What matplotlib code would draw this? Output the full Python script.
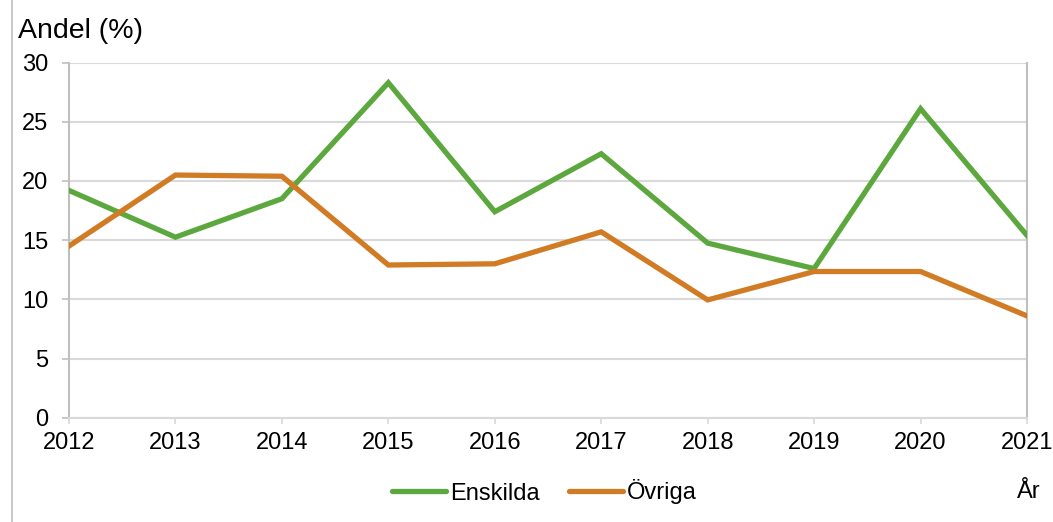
import matplotlib
matplotlib.use("Agg")
import matplotlib.pyplot as plt
from matplotlib.lines import Line2D

years = [2012, 2013, 2014, 2015, 2016, 2017, 2018, 2019, 2020, 2021]
enskilda = [19.2, 15.25, 18.5, 28.3, 17.4, 22.3, 14.75, 12.6, 26.1, 15.4]
ovriga = [14.5, 20.5, 20.4, 12.9, 13.0, 15.7, 9.95, 12.35, 12.35, 8.6]
yticks = [0, 5, 10, 15, 20, 25, 30]

plt.rcParams['font.family'] = ['Liberation Sans', 'DejaVu Sans']

fig = plt.figure(figsize=(10.53, 5.22), dpi=100)
ax = fig.add_axes([69/1053, 1 - 417.7/522, (1027 - 69)/1053, (417.7 - 62.6)/522])

green = '#5DA83E'
orange = '#D17B25'

ax.plot(years, enskilda, color=green, lw=3.8, solid_joinstyle='miter', label='Enskilda', zorder=3)
ax.plot(years, ovriga, color=orange, lw=3.8, solid_joinstyle='miter', label='Övriga', zorder=3)

ax.set_xlim(2012, 2021)
ax.set_ylim(0, 30)
ax.set_xticks(years)
ax.set_xticklabels([str(y) for y in years])
ax.set_yticks(yticks)
ax.set_yticklabels([str(v) for v in yticks])

ax.grid(axis='y', color='#D9D9D9', lw=1.5, zorder=0)
ax.set_axisbelow(True)
for s in ['left', 'bottom', 'right']:
    ax.spines[s].set_color('#BFBFBF')
    ax.spines[s].set_linewidth(1.5)
ax.spines['bottom'].set_color('#D9D9D9')
ax.spines['top'].set_visible(False)

ax.tick_params(axis='y', length=5, width=1.2, color='#BFBFBF', pad=10, labelsize=17)
ax.tick_params(axis='x', length=4, width=1.2, color='#D9D9D9', pad=6, labelsize=17)

fig.text(18/1053, 1 - 31/522, 'Andel (%)', fontsize=20.5, ha='left', va='center')
fig.text(1029/1053, 1 - 492/522, 'År', fontsize=17, ha='center', va='center')

handles = [Line2D([], [], color=green, lw=3.8, solid_capstyle='round'),
           Line2D([], [], color=orange, lw=3.8, solid_capstyle='round')]
fig.legend(handles, ['Enskilda', 'Övriga'], loc='center left',
           bbox_to_anchor=(392/1053, 1 - 492/522), ncol=2, frameon=False,
           fontsize=17, handlelength=2.3, handletextpad=0.15, columnspacing=1.25,
           borderpad=0, borderaxespad=0)

fig.add_artist(Line2D([12/1053, 12/1053], [0, 1], transform=fig.transFigure,
                      color='#BFBFBF', lw=1.2))

fig.savefig('out.png', dpi=100)
